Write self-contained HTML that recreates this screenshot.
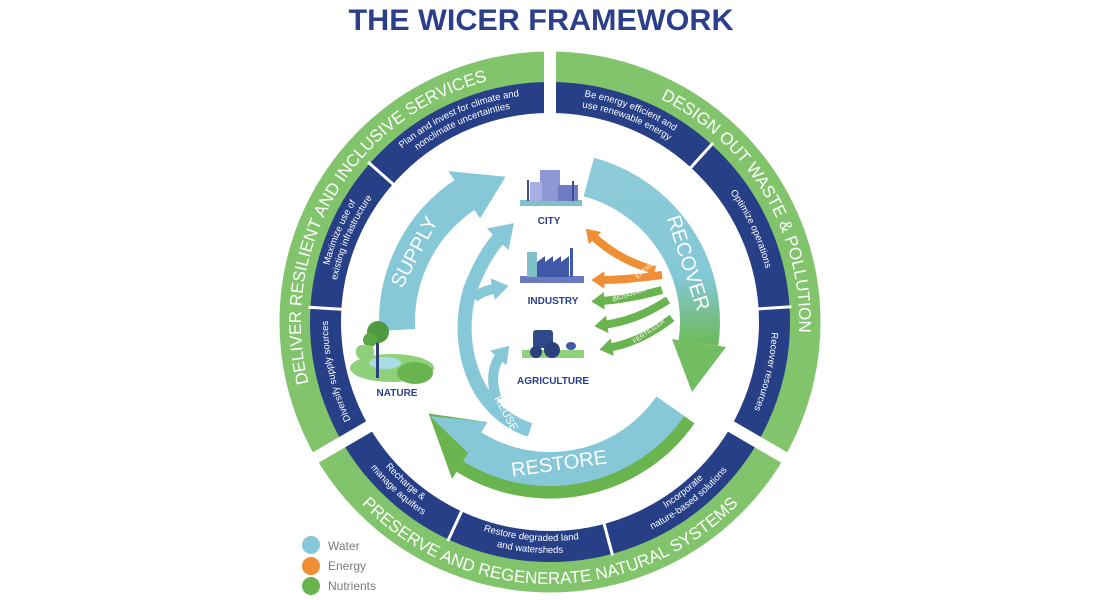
<!DOCTYPE html>
<html><head><meta charset="utf-8"><style>
html,body{margin:0;padding:0;background:#fff;}
svg{display:block;font-family:"Liberation Sans",sans-serif;}
</style></head><body>
<svg width="1100" height="600" viewBox="0 0 1100 600" xmlns="http://www.w3.org/2000/svg">
<defs>
<path id="cw249" d="M550,571 A249,249 0 1 1 550,73 A249,249 0 1 1 550,571"/>
<path id="cw228" d="M550,550 A228,228 0 1 1 550,94 A228,228 0 1 1 550,550"/>
<path id="cw217" d="M550,539 A217,217 0 1 1 550,105 A217,217 0 1 1 550,539"/>
<path id="cw222" d="M550,544 A222,222 0 1 1 550,100 A222,222 0 1 1 550,544"/>
<path id="ccw262" d="M550,60 A262,262 0 1 0 550,584 A262,262 0 1 0 550,60"/>
<path id="ccw219" d="M550,103 A219,219 0 1 0 550,541 A219,219 0 1 0 550,103"/>
<path id="ccw231" d="M550,91 A231,231 0 1 0 550,553 A231,231 0 1 0 550,91"/>
<linearGradient id="recg" x1="0" y1="0" x2="0" y2="1">
<stop offset="0" stop-color="#8dcbd9"/><stop offset="0.6" stop-color="#84c7d6"/><stop offset="1" stop-color="#6cba5c"/>
</linearGradient>
<marker id="mo" viewBox="0 0 4 4" markerWidth="2.2" markerHeight="2.2" refX="1" refY="2" orient="auto" markerUnits="strokeWidth"><path d="M0,0 L3,2 L0,4 Z" fill="#ef8f35"/></marker>
<marker id="mg" viewBox="0 0 4 4" markerWidth="2.2" markerHeight="2.2" refX="1" refY="2" orient="auto" markerUnits="strokeWidth"><path d="M0,0 L3,2 L0,4 Z" fill="#6ab44f"/></marker>
<marker id="mb" viewBox="0 0 4 4" markerWidth="2.2" markerHeight="2.2" refX="1" refY="2" orient="auto" markerUnits="strokeWidth"><path d="M0,0 L3,2 L0,4 Z" fill="#86c8d7"/></marker>
</defs>

<text x="541" y="30" text-anchor="middle" font-size="30" font-weight="bold" fill="#2b3f8c" textLength="385" lengthAdjust="spacingAndGlyphs">THE WICER FRAMEWORK</text>

<circle cx="550" cy="322" r="255" fill="none" stroke="#82c46b" stroke-width="31"/>
<circle cx="550" cy="322" r="224.5" fill="none" stroke="#263f87" stroke-width="31"/>
<g stroke="#fff" stroke-width="12">
<line x1="550" y1="119" x2="550" y2="42"/>
<line x1="727.5" y1="424.5" x2="792" y2="462"/>
<line x1="372.5" y1="424.5" x2="308" y2="462"/>
</g>
<g stroke="#fff" stroke-width="3">
<line x1="394.5" y1="185.4" x2="368" y2="162"/>
<line x1="343.4" y1="309.4" x2="308.5" y2="307.2"/>
<line x1="689.5" y1="169" x2="713" y2="143"/>
<line x1="756.6" y1="309" x2="791.5" y2="306.8"/>
<line x1="603.6" y1="522" x2="612.6" y2="555.5"/>
<line x1="462.4" y1="509.5" x2="447.8" y2="541"/>
</g>

<g fill="#fff" font-size="17">
<text><textPath href="#cw249" startOffset="33.5%" text-anchor="middle">DELIVER RESILIENT AND INCLUSIVE SERVICES</textPath></text>
<text><textPath href="#cw249" startOffset="66.5%" text-anchor="middle">DESIGN OUT WASTE &amp; POLLUTION</textPath></text>
<text><textPath href="#ccw262" startOffset="50%" text-anchor="middle">PRESERVE AND REGENERATE NATURAL SYSTEMS</textPath></text>
</g>
<g fill="#fff" font-size="9.5">
<text><textPath href="#cw228" startOffset="43.3%" text-anchor="middle">Plan and invest for climate and</textPath></text>
<text><textPath href="#cw217" startOffset="43.3%" text-anchor="middle">nonclimate uncertainties</textPath></text>
<text><textPath href="#cw228" startOffset="31.4%" text-anchor="middle">Maximize use of</textPath></text>
<text><textPath href="#cw217" startOffset="31.4%" text-anchor="middle">existing infrastructure</textPath></text>
<text><textPath href="#cw222" startOffset="21.4%" text-anchor="middle">Diversify supply sources</textPath></text>
<text><textPath href="#cw228" startOffset="55.8%" text-anchor="middle">Be energy efficient and</textPath></text>
<text><textPath href="#cw217" startOffset="55.8%" text-anchor="middle">use renewable energy</textPath></text>
<text><textPath href="#cw222" startOffset="68.1%" text-anchor="middle">Optimize operations</textPath></text>
<text><textPath href="#cw222" startOffset="78.6%" text-anchor="middle">Recover resources</textPath></text>
<text><textPath href="#ccw219" startOffset="38.3%" text-anchor="middle">Recharge &amp;</textPath></text>
<text><textPath href="#ccw231" startOffset="38.3%" text-anchor="middle">manage aquifers</textPath></text>
<text><textPath href="#ccw219" startOffset="48.6%" text-anchor="middle">Restore degraded land</textPath></text>
<text><textPath href="#ccw231" startOffset="48.6%" text-anchor="middle">and watersheds</textPath></text>
<text><textPath href="#ccw219" startOffset="60.6%" text-anchor="middle">Incorporate</textPath></text>
<text><textPath href="#ccw231" startOffset="60.6%" text-anchor="middle">nature-based solutions</textPath></text>
</g>

<!-- SUPPLY -->
<path d="M397.2,330 A153,153 0 0 1 464.4,195.1" fill="none" stroke="#86c8d7" stroke-width="36"/>
<polygon points="480.1,218.4 448.3,171.1 505.6,176.7" fill="#86c8d7"/>
<text transform="translate(420,255) rotate(-62)" fill="#fff" font-size="20" text-anchor="middle">SUPPLY</text>

<!-- RECOVER -->
<path d="M588.8,177.1 A150,150 0 0 1 698.5,342.9" fill="none" stroke="url(#recg)" stroke-width="40"/>
<polygon points="672,339 726,347 692,392" fill="#72bd62"/>
<text transform="translate(682,265) rotate(72)" fill="#fff" font-size="20" text-anchor="middle">RECOVER</text>

<!-- RESTORE -->
<path d="M689.2,419.6 A170,170 0 0 1 459.9,466.2" fill="none" stroke="#6ab44f" stroke-width="13"/>
<path d="M670.4,406.3 A147,147 0 0 1 472.1,446.7" fill="none" stroke="#86c8d7" stroke-width="34"/>
<polygon points="487.5,422.1 452,478.9 428.6,413.5" fill="#6ab44f"/>
<polygon points="487.5,422.1 468,453 430,416" fill="#86c8d7"/>
<text transform="translate(560,470) rotate(-8)" fill="#fff" font-size="20" text-anchor="middle">RESTORE</text>

<!-- REUSE -->
<g fill="none" stroke="#86c8d7">
<path d="M530,430 C470,410 455,340 470,290 C482,258 495,242 503,234" stroke-width="14" marker-end="url(#mb)"/>
<path d="M474,298 C480,292 488,290 498,288" stroke-width="10" marker-end="url(#mb)"/>
<path d="M497,400 C490,380 493,364 502,354" stroke-width="10" marker-end="url(#mb)"/>
</g>
<text transform="translate(503,415) rotate(62)" fill="#fff" font-size="11" text-anchor="middle">REUSE</text>

<!-- energy / nutrients -->
<g fill="none" stroke-width="8">
<path d="M655,270 C625,262 605,248 592,235" stroke="#ef8f35" marker-end="url(#mo)"/>
<path d="M662,275 C640,278 620,280 600,280" stroke="#ef8f35" marker-end="url(#mo)"/>
<path d="M662,290 C640,296 620,300 600,301" stroke="#6ab44f" marker-end="url(#mg)"/>
<path d="M668,300 C645,315 625,322 603,325" stroke="#6ab44f" marker-end="url(#mg)"/>
<path d="M672,318 C650,335 630,344 608,348" stroke="#6ab44f" marker-end="url(#mg)"/>
</g>
<g fill="#fff" font-size="6.5">
<text transform="translate(648,270) rotate(-40)" text-anchor="middle">ENERGY</text>
<text transform="translate(630,296) rotate(-18)" text-anchor="middle">BIOSOLIDS</text>
<text transform="translate(650,333) rotate(-35)" text-anchor="middle">FERTILIZER</text>
</g>

<!-- City icon -->
<rect x="520" y="200" width="62" height="6" fill="#7fc0c9"/>
<rect x="540" y="170" width="20" height="31" fill="#8e98d4"/>
<rect x="530" y="182" width="12" height="19" fill="#a7aee0"/>
<rect x="558" y="185" width="20" height="16" fill="#6f7cc4"/>
<rect x="527" y="180" width="2" height="21" fill="#3e4d9a"/>
<rect x="572" y="181" width="2" height="20" fill="#3e4d9a"/>
<text x="549" y="224" text-anchor="middle" font-size="10" font-weight="bold" fill="#2b3f8c">CITY</text>

<!-- Industry icon -->
<rect x="520" y="276" width="64" height="7" fill="#6b78c2"/>
<rect x="527" y="252" width="10" height="25" fill="#7fc0c9"/>
<polygon points="537,277 537,262 545,256 545,262 553,256 553,262 561,256 561,262 569,256 569,277" fill="#3f58a8"/>
<rect x="570" y="248" width="3" height="29" fill="#3f58a8"/>
<text x="553" y="304" text-anchor="middle" font-size="10" font-weight="bold" fill="#2b3f8c">INDUSTRY</text>

<!-- Agriculture icon -->
<rect x="522" y="350" width="62" height="8" fill="#8fd07a"/>
<rect x="533" y="330" width="20" height="18" rx="3" fill="#2f4a8a"/>
<circle cx="536" cy="352" r="6" fill="#2b3f7c"/>
<circle cx="552" cy="350" r="8" fill="#2b3f7c"/>
<ellipse cx="571" cy="346" rx="5" ry="4" fill="#3f58a8"/>
<text x="553" y="384" text-anchor="middle" font-size="10" font-weight="bold" fill="#2b3f8c">AGRICULTURE</text>

<!-- Nature icon -->
<ellipse cx="392" cy="368" rx="42" ry="14" fill="#8fd07a"/>
<ellipse cx="415" cy="373" rx="18" ry="11" fill="#6ab44f"/>
<ellipse cx="385" cy="363" rx="16" ry="6" fill="#a8dbe4"/>
<rect x="376" y="338" width="3" height="40" fill="#2b3f7c"/>
<circle cx="378" cy="332" r="11" fill="#4e9a3e"/>
<circle cx="370" cy="340" r="7" fill="#5aa846"/>
<rect x="356" y="345" width="18" height="14" rx="6" fill="#8fd07a"/>
<text x="397" y="396" text-anchor="middle" font-size="10" font-weight="bold" fill="#2b3f8c">NATURE</text>

<!-- Legend -->
<circle cx="311" cy="545" r="9" fill="#86c8d7"/>
<circle cx="311" cy="566" r="9" fill="#ef8f35"/>
<circle cx="311" cy="586" r="9" fill="#6ab44f"/>
<g font-size="12" fill="#7a7a7a">
<text x="328" y="550">Water</text>
<text x="328" y="570">Energy</text>
<text x="328" y="590">Nutrients</text>
</g>
</svg>
</body></html>
